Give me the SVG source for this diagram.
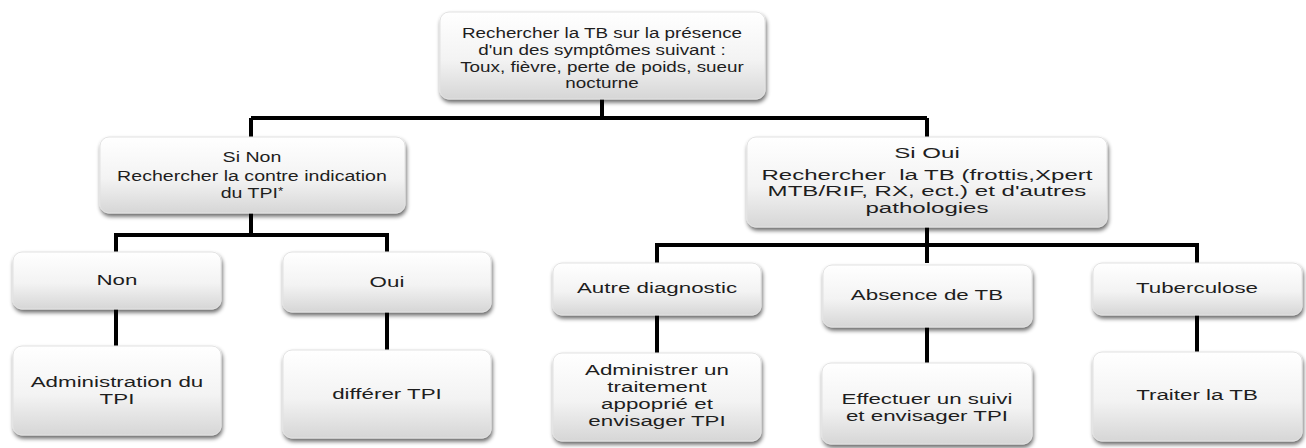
<svg xmlns="http://www.w3.org/2000/svg" width="1306" height="448" viewBox="0 0 1306 448">
  <defs>
    <linearGradient id="boxFill" x1="0" y1="0" x2="0" y2="1">
      <stop offset="0" stop-color="#ffffff"/>
      <stop offset="0.55" stop-color="#f3f3f3"/>
      <stop offset="1" stop-color="#d6d6d6"/>
    </linearGradient>
    <filter id="shadow" x="-10%" y="-10%" width="125%" height="130%">
      <feGaussianBlur in="SourceAlpha" stdDeviation="2"/>
      <feOffset dx="1" dy="3" result="blur"/>
      <feComponentTransfer><feFuncA type="linear" slope="0.6"/></feComponentTransfer>
      <feMerge><feMergeNode/><feMergeNode in="SourceGraphic"/></feMerge>
    </filter>
  </defs>
  <style>
    .box { fill: url(#boxFill); stroke: #e2e2e2; stroke-width: 1; filter: url(#shadow); }
    .t { font-family: "Liberation Sans", Arial, sans-serif; font-size: 14.5px; fill: #1e1e1e; text-anchor: middle; }
    .t2 { font-size: 15px; }
    .link { stroke: #000; stroke-width: 4; fill: none; }
    .sup { font-size: 10px; }
  </style>

  <!-- connectors -->
  <g id="connectors">
    <path class="link" d="M602 99 V118"/>
    <path class="link" d="M251 118 H927"/>
    <path class="link" d="M251 118 V137"/>
    <path class="link" d="M927 118 V137"/>
    <path class="link" d="M251 213 V235"/>
    <path class="link" d="M116 235 H387"/>
    <path class="link" d="M116 233 V252"/>
    <path class="link" d="M387 233 V252"/>
    <path class="link" d="M116 309 V346"/>
    <path class="link" d="M387 312 V350"/>
    <path class="link" d="M927 227 V263"/>
    <path class="link" d="M657 245 H1197"/>
    <path class="link" d="M657 243 V263"/>
    <path class="link" d="M1197 243 V263"/>
    <path class="link" d="M657 315 V353"/>
    <path class="link" d="M927 327 V363"/>
    <path class="link" d="M1197 315 V352"/>
  </g>

  <!-- text is widened horizontally around each box centre -->
  <g id="n-root">
    <rect class="box" x="440" y="12" width="325" height="87" rx="9"/>
    <g transform="matrix(1.3 0 0 1 -180.6 0)">
      <text class="t" x="602" y="38">Rechercher la TB sur la présence</text>
      <text class="t" x="602" y="55">d'un des symptômes suivant :</text>
      <text class="t" x="602" y="72">Toux, fièvre, perte de poids, sueur</text>
      <text class="t" x="602" y="88">nocturne</text>
    </g>
  </g>

  <g id="n-si-non">
    <rect class="box" x="100" y="137" width="305" height="76" rx="9"/>
    <g transform="matrix(1.35 0 0 1 -88.2 0)">
      <text class="t" x="252" y="162">Si Non</text>
      <text class="t" x="252" y="181.5">Rechercher la contre indication</text>
      <text class="t" x="252" y="198">du TPI<tspan class="sup" dy="-3">*</tspan></text>
    </g>
  </g>

  <g id="n-si-oui">
    <rect class="box" x="747" y="137" width="360" height="90" rx="9"/>
    <g transform="matrix(1.66 0 0 1 -611.82 0)">
      <text class="t" x="927" y="158">Si Oui</text>
      <text class="t" x="927" y="180" xml:space="preserve">Rechercher  la TB (frottis,Xpert</text>
      <text class="t" x="927" y="196.5">MTB/RIF, RX, ect.) et d'autres</text>
      <text class="t" x="927" y="213">pathologies</text>
    </g>
  </g>

  <g id="n-non">
    <rect class="box" x="13" y="252" width="208" height="57" rx="9"/>
    <text class="t t2" x="117" y="285" transform="matrix(1.49 0 0 1 -57.33 0)">Non</text>
  </g>

  <g id="n-oui">
    <rect class="box" x="283" y="252" width="208" height="60" rx="9"/>
    <text class="t t2" x="387" y="287" transform="matrix(1.49 0 0 1 -189.63 0)">Oui</text>
  </g>

  <g id="n-administration">
    <rect class="box" x="13" y="346" width="208" height="89" rx="9"/>
    <g transform="matrix(1.49 0 0 1 -57.33 0)">
      <text class="t t2" x="117" y="387">Administration du</text>
      <text class="t t2" x="117" y="404">TPI</text>
    </g>
  </g>

  <g id="n-differer">
    <rect class="box" x="283" y="350" width="208" height="88" rx="9"/>
    <text class="t t2" x="387" y="399" transform="matrix(1.49 0 0 1 -189.63 0)">différer TPI</text>
  </g>

  <g id="n-autre">
    <rect class="box" x="553" y="263" width="208" height="52" rx="9"/>
    <text class="t t2" x="657" y="293" transform="matrix(1.49 0 0 1 -321.93 0)">Autre diagnostic</text>
  </g>

  <g id="n-absence">
    <rect class="box" x="823" y="265" width="209" height="62" rx="9"/>
    <text class="t t2" x="927" y="300" transform="matrix(1.49 0 0 1 -454.23 0)">Absence de TB</text>
  </g>

  <g id="n-tuberculose">
    <rect class="box" x="1093" y="263" width="209" height="52" rx="9"/>
    <text class="t t2" x="1197" y="293" transform="matrix(1.49 0 0 1 -586.53 0)">Tuberculose</text>
  </g>

  <g id="n-administrer">
    <rect class="box" x="553" y="353" width="208" height="88" rx="9"/>
    <g transform="matrix(1.49 0 0 1 -321.93 0)">
      <text class="t t2" x="657" y="375">Administrer un</text>
      <text class="t t2" x="657" y="392">traitement</text>
      <text class="t t2" x="657" y="409">appoprié et</text>
      <text class="t t2" x="657" y="426">envisager TPI</text>
    </g>
  </g>

  <g id="n-suivi">
    <rect class="box" x="822" y="363" width="210" height="81" rx="9"/>
    <g transform="matrix(1.49 0 0 1 -454.23 0)">
      <text class="t t2" x="927" y="404">Effectuer un suivi</text>
      <text class="t t2" x="927" y="421">et envisager TPI</text>
    </g>
  </g>

  <g id="n-traiter">
    <rect class="box" x="1093" y="352" width="209" height="89" rx="9"/>
    <text class="t t2" x="1197" y="400" transform="matrix(1.49 0 0 1 -586.53 0)">Traiter la TB</text>
  </g>
</svg>
